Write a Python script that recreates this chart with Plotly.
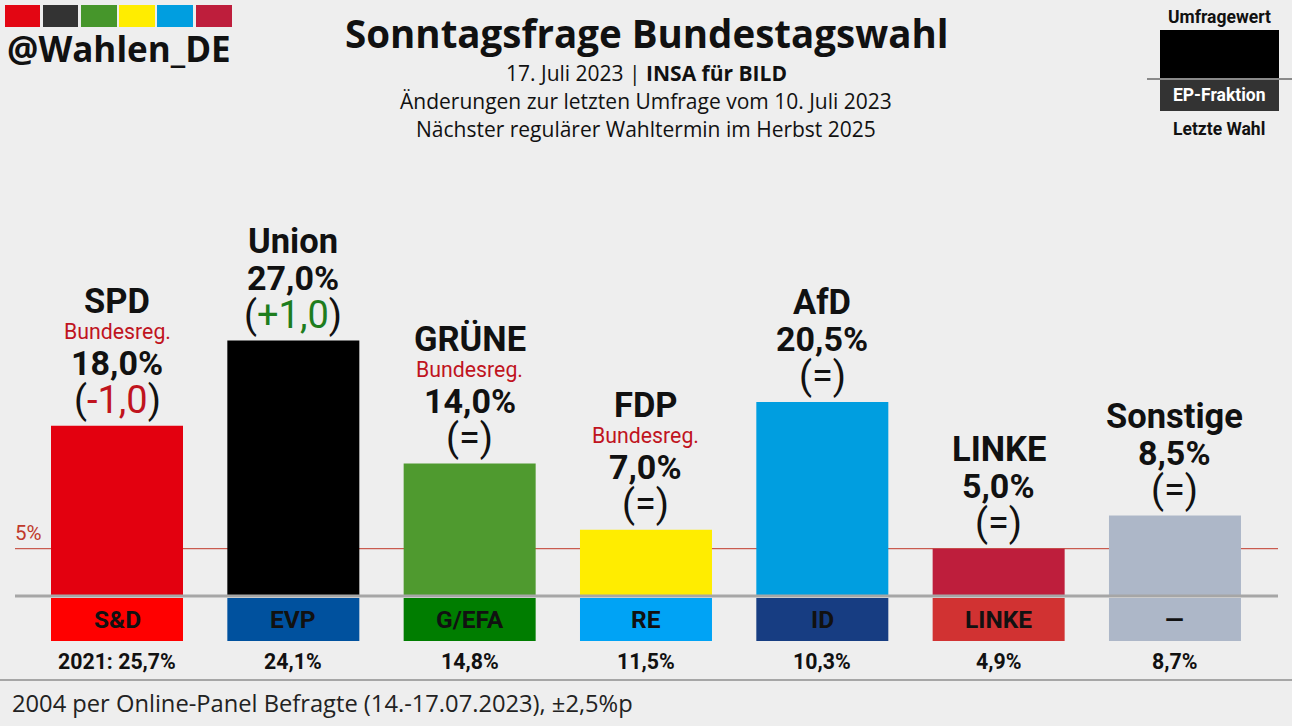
import plotly.graph_objects as go

W, H = 1292, 726

parties = ["SPD", "Union", "GRÜNE", "FDP", "AfD", "LINKE", "Sonstige"]
values = [18.0, 27.0, 14.0, 7.0, 20.5, 5.0, 8.5]
value_labels = ["18,0%", "27,0%", "14,0%", "7,0%", "20,5%", "5,0%", "8,5%"]
changes = ["-1,0", "+1,0", "=", "=", "=", "=", "="]
government = [True, False, True, True, False, False, False]
bar_colors = ["#e3000f", "#000000", "#4f9a2f", "#ffed00", "#009ee0", "#be1e3c", "#adb7c8"]
ep_groups = ["S&D", "EVP", "G/EFA", "RE", "ID", "LINKE", "—"]
ep_colors = ["#ff0000", "#00519e", "#007d00", "#00a3f5", "#173d82", "#d13232", "#adb7c8"]
last_election = ["2021: 25,7%", "24,1%", "14,8%", "11,5%", "10,3%", "4,9%", "8,7%"]
threshold = 5
logo_colors = ["#e30613", "#333333", "#46962b", "#ffed00", "#009ee0", "#be1e3c"]

BG = "#eeeeee"
RED_TXT = "#c0141e"
GREEN_TXT = "#1e7d1e"

# pixel -> data mapping helpers
base_px = 596.0
px_per_pct = 9.46
x0_px, step_px, bar_px = 117.0, 176.33, 132.0

xr = [-x0_px / step_px, (W - x0_px) / step_px]
yr = [(base_px - H) / px_per_pct, base_px / px_per_pct]

def py(p):
    return 1 - p / H

def px(p):
    return p / W

xs = list(range(len(parties)))

fig = go.Figure()
fig.add_trace(go.Bar(
    x=xs, y=values, width=bar_px / step_px,
    marker=dict(color=bar_colors, line=dict(width=0)),
    hoverinfo="skip", showlegend=False,
))
# EP-Fraktion boxes below the baseline
box_top = (base_px - 598) / px_per_pct
box_bot = (base_px - 641) / px_per_pct
fig.add_trace(go.Bar(
    x=xs, y=[box_bot - box_top] * len(xs), base=[box_top] * len(xs),
    width=bar_px / step_px,
    marker=dict(color=ep_colors, line=dict(width=0)),
    hoverinfo="skip", showlegend=False,
))

shapes = []
# 5% threshold line
shapes.append(dict(type="line", xref="paper", yref="y", x0=px(15), x1=px(1278),
                   y0=threshold, y1=threshold, line=dict(color="#c0392b", width=1), layer="below"))
# baseline
shapes.append(dict(type="line", xref="paper", yref="y", x0=px(15), x1=px(1278),
                   y0=0, y1=0, line=dict(color="#a6a6a6", width=3), layer="above"))
# footer separator
shapes.append(dict(type="line", xref="paper", yref="paper", x0=0, x1=1,
                   y0=py(680), y1=py(680), line=dict(color="#a6a6a6", width=2)))
# logo squares
lx = [(5, 40), (43, 78), (81, 117), (119, 155), (157, 193), (196, 232)]
for (a, b), c in zip(lx, logo_colors):
    shapes.append(dict(type="rect", xref="paper", yref="paper", x0=px(a), x1=px(b),
                       y0=py(27), y1=py(5), fillcolor=c, line=dict(width=0)))
# legend boxes (top right)
shapes.append(dict(type="rect", xref="paper", yref="paper", x0=px(1160), x1=px(1279),
                   y0=py(78), y1=py(30), fillcolor="#000000", line=dict(width=0)))
shapes.append(dict(type="rect", xref="paper", yref="paper", x0=px(1160), x1=px(1279),
                   y0=py(111), y1=py(80), fillcolor="#333333", line=dict(width=0)))
shapes.append(dict(type="line", xref="paper", yref="paper", x0=px(1147), x1=1,
                   y0=py(79), y1=py(79), line=dict(color="#8a8a8a", width=2)))

ann = []
def A(text, x, y, size, color="#000000", family="Roboto", xref="paper", yref="paper",
      yshift=0, xanchor="center", bold=False):
    if bold:
        text = "<b>" + text + "</b>"
    ann.append(dict(text=text, x=x, y=y, xref=xref, yref=yref, showarrow=False,
                    xanchor=xanchor, yanchor="middle", yshift=yshift,
                    font=dict(size=size, color=color, family=family)))

# Title block
A("Sonntagsfrage Bundestagswahl", px(646), py(33), 38.5, "#111111", "Open Sans", bold=True)
A("17. Juli 2023 | <b>INSA für BILD</b>", px(646), py(73), 21, "#111111", "Open Sans")
A("Änderungen zur letzten Umfrage vom 10. Juli 2023", px(646), py(101), 21, "#111111", "Open Sans")
A("Nächster regulärer Wahltermin im Herbst 2025", px(646), py(129), 21, "#111111", "Open Sans")
# Logo text
A("@Wahlen_DE", px(5), py(48), 35, "#111111", "Open Sans", xanchor="left", bold=True)
# Legend
A("Umfragewert", px(1219), py(17), 17.5, "#111111", "Roboto", bold=True)
A("EP-Fraktion", px(1219), py(95), 17.5, "#ffffff", "Roboto", bold=True)
A("Letzte Wahl", px(1219), py(129), 17.5, "#111111", "Roboto", bold=True)
# 5% label
A("5%", px(13), None, 20.5, "#c0392b", "Roboto", xanchor="left")
ann[-1].update(y=threshold, yref="y", yshift=16)

for i, p in enumerate(xs):
    v = values[i]
    ch = changes[i]
    if ch.startswith("-"):
        chtxt = "(<span style='color:%s'>%s</span>)" % (RED_TXT, ch)
    elif ch.startswith("+"):
        chtxt = "(<span style='color:%s'>%s</span>)" % (GREEN_TXT, ch)
    else:
        chtxt = "(" + ch + ")"
    A(chtxt, p, v, 38, "#111111", "Roboto", xref="x", yref="y", yshift=26)
    A(value_labels[i], p, v, 34, "#111111", "Roboto", xref="x", yref="y", yshift=63, bold=True)
    if government[i]:
        A("Bundesreg.", p, v, 21.3, RED_TXT, "Roboto", xref="x", yref="y", yshift=94)
        A(parties[i], p, v, 34.5, "#111111", "Roboto", xref="x", yref="y", yshift=125, bold=True)
    else:
        A(parties[i], p, v, 34.5, "#111111", "Roboto", xref="x", yref="y", yshift=100, bold=True)
    A(ep_groups[i], p, py(619), 24.5, "#111111", "Roboto", xref="x", bold=True)
    A(last_election[i], p, py(661), 21.3, "#111111", "Roboto", xref="x", bold=True)

# Footer
A("2004 per Online-Panel Befragte (14.-17.07.2023), ±2,5%p", px(10), py(703), 23.7,
  "#222222", "Open Sans", xanchor="left")

fig.update_layout(
    width=W, height=H,
    margin=dict(l=0, r=0, t=0, b=0),
    paper_bgcolor=BG, plot_bgcolor=BG,
    barmode="overlay",
    xaxis=dict(range=xr, visible=False, fixedrange=True),
    yaxis=dict(range=yr, visible=False, fixedrange=True),
    shapes=shapes, annotations=ann,
    showlegend=False,
)
fig.write_html(
    "out.html",
    config={"displayModeBar": False},
    post_script="document.body.style.margin='0';document.body.style.overflow='hidden';",
)
